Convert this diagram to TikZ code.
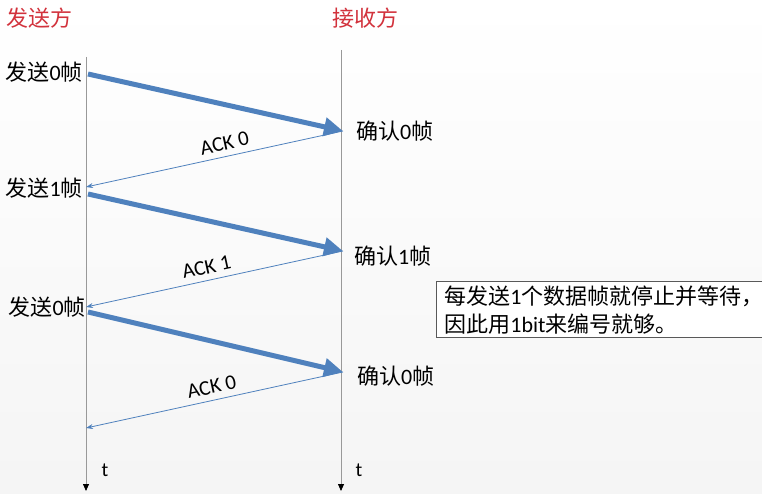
\documentclass[tikz,border=0pt]{standalone}
\usepackage{fontspec}
\setmainfont{Carlito}
\newfontfamily\cjk{Noto Sans CJK SC}
\usetikzlibrary{arrows.meta}
\definecolor{frameblue}{RGB}{79,129,189}
\definecolor{titlered}{RGB}{210,50,60}
\tikzset{
  timeline/.style={draw=black!40, line width=0.8pt, -{Triangle[length=7pt,width=6pt,fill=black,color=black]}},
  framearrow/.style={draw=frameblue, line width=5pt, -{Triangle[length=19pt,width=18pt]}},
  ackarrow/.style={draw=frameblue, line width=0.8pt, -{Stealth[length=7pt,width=5pt]}},
  lbl/.style={font=\fontsize{22}{24}\selectfont, inner sep=0pt},
  acklbl/.style={font=\fontsize{21}{22}\selectfont, inner sep=1pt, sloped, above=5pt},
  ttl/.style={font=\cjk\fontsize{22}{24}\selectfont, text=titlered, inner sep=0pt},
  note/.style={draw=black!65, line width=0.8pt, fill=white, font=\fontsize{22}{28}\selectfont, align=left, anchor=north west, inner xsep=8pt, inner ysep=4pt, text width=314pt}
}
\begin{document}
\begin{tikzpicture}[x=1pt,y=-1pt]
\useasboundingbox (0,0) rectangle (762,494);
\shade[top color=white, bottom color=black!4] (0,0) rectangle (762,494);
% titles
\node[ttl, anchor=west] (tsend) at (6,18) {发送方};
\node[ttl, anchor=west] (trecv) at (332,18) {接收方};
% timelines
\coordinate (Ltop) at (86,57);
\coordinate (Lbot) at (86,491);
\coordinate (Rtop) at (341,50);
\coordinate (Rbot) at (341,491);
\draw[timeline] (Ltop) -- (Lbot);
\draw[timeline] (Rtop) -- (Rbot);
\node[font=\fontsize{20}{22}\selectfont] (tL) at (105,470) {t};
\node[font=\fontsize{20}{22}\selectfont] (tR) at (359,470) {t};
% event points
\coordinate (s1) at (88,74);
\coordinate (r1) at (343,131);
\coordinate (a1) at (86,187);
\coordinate (s2) at (88,194);
\coordinate (r2) at (343,251);
\coordinate (a2) at (86,307);
\coordinate (s3) at (88,312);
\coordinate (r3) at (343,372);
\coordinate (a3) at (86,428);
% arrows
\draw[framearrow] (s1) -- (r1);
\draw[ackarrow] (r1) -- node[acklbl, pos=0.45] {ACK 0} (a1);
\draw[framearrow] (s2) -- (r2);
\draw[ackarrow] (r2) -- node[acklbl, pos=0.52] {ACK 1} (a2);
\draw[framearrow] (s3) -- (r3);
\draw[ackarrow] (r3) -- node[acklbl, pos=0.5] {ACK 0} (a3);
% labels
\node[lbl, anchor=east] (ls1) at (83,72) {{\cjk 发送}0{\cjk 帧}};
\node[lbl, anchor=east] (ls2) at (83,188) {{\cjk 发送}1{\cjk 帧}};
\node[lbl, anchor=east] (ls3) at (86,307) {{\cjk 发送}0{\cjk 帧}};
\node[lbl, anchor=west] (lr1) at (356,131) {{\cjk 确认}0{\cjk 帧}};
\node[lbl, anchor=west] (lr2) at (354,256) {{\cjk 确认}1{\cjk 帧}};
\node[lbl, anchor=west] (lr3) at (357,376) {{\cjk 确认}0{\cjk 帧}};
% note
\node[note] (box) at (436,281) {{\cjk 每发送}1{\cjk 个数据帧就停止并等待，}\\{\cjk 因此用}1bit{\cjk 来编号就够。}};
\end{tikzpicture}
\end{document}
